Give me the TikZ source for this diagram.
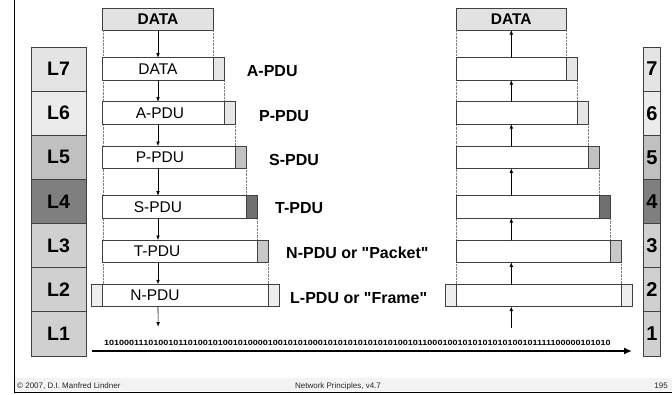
\documentclass[tikz,border=0pt]{standalone}
\usepackage{fontspec}
\setmainfont{Liberation Sans}
\newfontfamily\bitfont[FakeStretch=1.2]{Liberation Sans}
\usetikzlibrary{arrows.meta}
\definecolor{boxline}{HTML}{404040}
\definecolor{cA}{HTML}{E4E4E4}
\definecolor{cB}{HTML}{EBEBEB}
\definecolor{cC}{HTML}{C0C0C0}
\definecolor{cD}{HTML}{7F7F7F}
\definecolor{cE}{HTML}{D0D0D0}
\definecolor{hA}{HTML}{E6E6E6}
\definecolor{hC}{HTML}{C2C2C2}
\definecolor{hD}{HTML}{707070}
\definecolor{hE}{HTML}{C8C8C8}
\definecolor{hF}{HTML}{EEEEEE}
\definecolor{foot}{HTML}{F3F3F3}
\definecolor{datafill}{HTML}{E2E2E2}
\begin{document}
\begin{tikzpicture}[x=1pt,y=-1pt,
  layer/.style={draw=boxline, line width=0.8pt, minimum width=55pt, minimum height=44.14pt,
    inner sep=0pt, outer sep=0pt, anchor=north west, font=\bfseries\fontsize{19.5}{19.5}\selectfont},
  numbox/.style={layer, minimum width=17.7pt, font=\bfseries\fontsize{20}{20}\selectfont},
  bar/.style={draw=boxline, fill=white, line width=0.7pt, minimum height=22.3pt,
    inner sep=0pt, outer sep=0pt, anchor=north west},
  hdr/.style={bar, minimum width=11pt},
  databox/.style={draw=boxline, fill=datafill, line width=0.7pt, minimum width=110.6pt,
    minimum height=22pt, inner sep=0pt, outer sep=0pt, anchor=north west,
    font=\bfseries\fontsize{15.5}{15.5}\selectfont},
  guide/.style={draw=gray, densely dotted, line width=0.4pt},
  arr/.style={-{Latex[length=4.5pt,width=3.6pt]}, line width=0.6pt},
  lbl/.style={anchor=west, inner sep=0pt, font=\bfseries\fontsize{16}{16}\selectfont},
  bartext/.style={inner sep=0pt, font=\fontsize{15.5}{15.5}\selectfont},
  foottext/.style={inner sep=0pt, font=\fontsize{8}{8}\selectfont, text=black!85}
]
\useasboundingbox (0,0) rectangle (672,394);

% frame and footer
\fill[foot] (15,378) rectangle (672,391);
\coordinate (fl0) at (14.5,0);
\coordinate (fl1) at (14.5,392.5);
\coordinate (fb1) at (672,392.5);
\draw[line width=1.8pt] (fl0) -- (fl1) -- (fb1);
\node[foottext, anchor=west] (copy) at (17,386) {© 2007, D.I. Manfred Lindner};
\node[foottext] (title) at (338,386) {Network Principles, v4.7};
\node[foottext, anchor=east] (page) at (668,386) {195};

% left layer boxes
\node[layer, fill=cA] (L7) at (31,47) {L7};
\node[layer, fill=cB] (L6) at (31,91.14) {L6};
\node[layer, fill=cC] (L5) at (31,135.29) {L5};
\node[layer, fill=cD] (L4) at (31,179.43) {L4};
\node[layer, fill=cE] (L3) at (31,223.57) {L3};
\node[layer, fill=cE] (L2) at (31,267.71) {L2};
\node[layer, fill=cE] (L1) at (31,311.86) {L1};

% right number boxes
\node[numbox, fill=cA] (N7) at (643,47) {7};
\node[numbox, fill=cB] (N6) at (643,91.14) {6};
\node[numbox, fill=cC] (N5) at (643,135.29) {5};
\node[numbox, fill=cD] (N4) at (643,179.43) {4};
\node[numbox, fill=cE] (N3) at (643,223.57) {3};
\node[numbox, fill=cE] (N2) at (643,267.71) {2};
\node[numbox, fill=cE] (N1) at (643,311.86) {1};

% ===== left stack (sender) =====
\node[databox] (dataL) at (102.7,8) {DATA};
\coordinate (gL2) at (102.7,284.3);
\coordinate (endL) at (158.15,326.7);
% guides (drawn first)
\draw[guide] (dataL.south west) -- (gL2);
\draw[guide] (dataL.south east) -- (213.3,57.7);
\draw[guide] (224.3,80) -- (224.3,101.7);
\draw[guide] (235.3,124.3) -- (235.3,146);
\draw[guide] (246.3,168.3) -- (246.3,195.7);
\draw[guide] (257.3,217.7) -- (257.3,240);
\draw[guide] (268.3,262.3) -- (268.3,284.3);

\node[bar, minimum width=110.6pt] (b7) at (102.7,57.7) {};
\node[hdr, fill=hA] (h7) at (213.3,57.7) {};
\node[bar, minimum width=121.6pt] (b6) at (102.7,101.7) {};
\node[hdr, fill=hA] (h6) at (224.3,101.7) {};
\node[bar, minimum width=132.6pt] (b5) at (102.7,146) {};
\node[hdr, fill=hC] (h5) at (235.3,146) {};
\node[bar, minimum width=143.6pt] (b4) at (102.7,195.7) {};
\node[hdr, fill=hD] (h4) at (246.3,195.7) {};
\node[bar, minimum width=154.6pt] (b3) at (102.7,240) {};
\node[hdr, fill=hE] (h3) at (257.3,240) {};
\node[bar, minimum width=165.6pt] (b2) at (102.7,284.3) {};
\node[hdr, fill=hF] (t2) at (268.3,284.3) {};
\node[hdr, fill=hF] (h2) at (91.7,284.3) {};

\node[bartext] (x7) at (158,69) {DATA};
\node[bartext] (x6) at (160,113) {A-PDU};
\node[bartext] (x5) at (160,157) {P-PDU};
\node[bartext] (x4) at (158,206.8) {S-PDU};
\node[bartext] (x3) at (157,251) {T-PDU};
\node[bartext] (x2) at (155,295.4) {N-PDU};

\draw[arr] (dataL.south) -- (dataL.south |- b7.north);
\draw[arr] (dataL.south |- b7.south) -- (dataL.south |- b6.north);
\draw[arr] (dataL.south |- b6.south) -- (dataL.south |- b5.north);
\draw[arr] (dataL.south |- b5.south) -- (dataL.south |- b4.north);
\draw[arr] (dataL.south |- b4.south) -- (dataL.south |- b3.north);
\draw[arr] (dataL.south |- b3.south) -- (dataL.south |- b2.north);
\draw[arr] (dataL.south |- b2.south) -- (endL);

% PDU labels
\node[lbl] (p7) at (246.7,71.5) {A-PDU};
\node[lbl] (p6) at (259,115.7) {P-PDU};
\node[lbl] (p5) at (269,159.7) {S-PDU};
\node[lbl] (p4) at (275,208.3) {T-PDU};
\node[lbl] (p3) at (286,253) {N-PDU or \textquotedbl Packet\textquotedbl};
\node[lbl] (p2) at (290,297.7) {L-PDU or \textquotedbl Frame\textquotedbl};

% ===== right stack (receiver) =====
\node[databox] (dataR) at (456,8) {DATA};
\coordinate (gR2) at (456,284.3);
\coordinate (endR) at (511.3,328);
\draw[guide] (dataR.south west) -- (gR2);
\draw[guide] (dataR.south east) -- (566.6,57.7);
\draw[guide] (577.6,80) -- (577.6,101.7);
\draw[guide] (588.6,124.3) -- (588.6,146);
\draw[guide] (599.6,168.3) -- (599.6,195.7);
\draw[guide] (610.6,217.7) -- (610.6,240);
\draw[guide] (621.6,262.3) -- (621.6,284.3);

\node[bar, minimum width=110.6pt] (r7) at (456,57.7) {};
\node[hdr, fill=hA] (rh7) at (566.6,57.7) {};
\node[bar, minimum width=121.6pt] (r6) at (456,101.7) {};
\node[hdr, fill=hA] (rh6) at (577.6,101.7) {};
\node[bar, minimum width=132.6pt] (r5) at (456,146) {};
\node[hdr, fill=hC] (rh5) at (588.6,146) {};
\node[bar, minimum width=143.6pt] (r4) at (456,195.7) {};
\node[hdr, fill=hD] (rh4) at (599.6,195.7) {};
\node[bar, minimum width=154.6pt] (r3) at (456,240) {};
\node[hdr, fill=hE] (rh3) at (610.6,240) {};
\node[bar, minimum width=165.6pt] (r2) at (456,284.3) {};
\node[hdr, fill=hF] (rt2) at (621.6,284.3) {};
\node[hdr, fill=hF] (rh2) at (445,284.3) {};

\draw[arr] (dataR.south |- r7.north) -- (dataR.south);
\draw[arr] (dataR.south |- r6.north) -- (dataR.south |- r7.south);
\draw[arr] (dataR.south |- r5.north) -- (dataR.south |- r6.south);
\draw[arr] (dataR.south |- r4.north) -- (dataR.south |- r5.south);
\draw[arr] (dataR.south |- r3.north) -- (dataR.south |- r4.south);
\draw[arr] (dataR.south |- r2.north) -- (dataR.south |- r3.south);
\draw[arr] (endR) -- (dataR.south |- r2.south);

% bit stream
\node[inner sep=0pt, font=\bitfont\bfseries\fontsize{7.5}{7.5}\selectfont] (bits) at (357.5,343.3)
  {101000111010010110100101001010000100101010001010101010101010010110001001010101010100101111100000101010};
\coordinate (s0) at (91.7,351);
\coordinate (s1) at (632,351);
\draw[line width=2pt, -{Latex[length=8pt,width=7pt]}] (s0) -- (s1);
\end{tikzpicture}
\end{document}
